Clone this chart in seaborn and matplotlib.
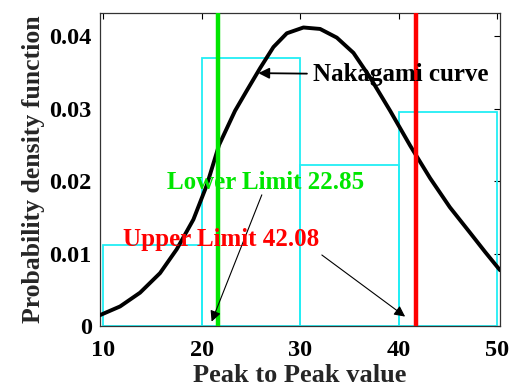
import numpy as np
import pandas as pd
import matplotlib
matplotlib.use("Agg")
import matplotlib.pyplot as plt
import seaborn as sns

# ---- data ----
bin_edges = [10, 20, 30, 40, 50]
bin_centers = [15, 25, 35, 45]
bin_density = [0.0112, 0.0370, 0.0222, 0.0296]

curve_x = [9.66, 11.7, 13.73, 15.76, 17.46, 19.15, 20.5, 21.76, 23.38, 24.58,
           25.93, 27.28, 28.64, 30.33, 32.02, 33.72, 35.41, 37.1, 39.14, 41.17,
           43.2, 45.2, 47.24, 48.8, 50.3]
curve_y = [0.0015, 0.0027, 0.0046, 0.0073, 0.0106, 0.0147, 0.0194, 0.0250, 0.0297, 0.0325,
           0.0356, 0.0385, 0.0404, 0.0412, 0.0410, 0.0398, 0.0377, 0.0343, 0.0297, 0.0249,
           0.0204, 0.0164, 0.0129, 0.0102, 0.0077]

lower_limit_pos = 21.63
upper_limit_pos = 41.74
lower_label = "Lower Limit 22.85"
upper_label = "Upper Limit 42.08"
curve_label = "Nakagami curve"

x_ticks = [10, 20, 30, 40, 50]
y_ticks = [0, 0.01, 0.02, 0.03, 0.04]
y_tick_labels = ["0", "0.01", "0.02", "0.03", "0.04"]

# ---- plot ----
sns.set_style("white")
plt.rcParams['font.family'] = ['Liberation Serif', 'DejaVu Serif']
plt.rcParams['font.weight'] = 'bold'

fig = plt.figure(figsize=(5.13, 3.90), dpi=100)
ax = fig.add_axes([100/513, 64/390, 400/513, 313/390])

hist_df = pd.DataFrame({"x": bin_centers, "w": bin_density})
sns.histplot(data=hist_df, x="x", weights="w", bins=bin_edges, stat="count",
             fill=False, element="bars", color="#22eef5", linewidth=1.3, ax=ax)

curve_df = pd.DataFrame({"x": curve_x, "y": curve_y})
sns.lineplot(data=curve_df, x="x", y="y", color="black", lw=2.8, ax=ax, zorder=4)
ax.lines[-1].set_solid_joinstyle("round")

ax.axvline(lower_limit_pos, color="#00e600", lw=3.2, zorder=5)
ax.axvline(upper_limit_pos, color="#ff0000", lw=3.2, zorder=5)

ax.set_xlim(9.66, 50.3)
ax.set_ylim(0, 0.0432)
ax.set_xticks(x_ticks)
ax.set_xticklabels([str(t) for t in x_ticks])
ax.set_yticks(y_ticks)
ax.set_yticklabels(y_tick_labels)
ax.tick_params(direction="in", length=4, width=0.8, top=True, right=True,
               labelsize=17.5, pad=6, colors="black")
ax.tick_params(axis="x", pad=10)
for lab in ax.get_xticklabels() + ax.get_yticklabels():
    lab.set_fontweight("bold")
for s in ax.spines.values():
    s.set_color("#333333")
    s.set_linewidth(0.9)

ax.set_xlabel("Peak to Peak value", fontsize=19, fontweight="bold", labelpad=2)
ax.set_ylabel("Probability density function", fontsize=18.5, fontweight="bold", labelpad=3)

ax.annotate(curve_label, xy=(25.75, 0.0349), xytext=(31.3, 0.0347),
            fontsize=18, fontweight="bold", color="black", va="center", ha="left",
            arrowprops=dict(arrowstyle="-|>", color="black", lw=1.3, mutation_scale=16,
                            shrinkA=2, shrinkB=0), zorder=6)
ax.text(26.5, 0.0198, lower_label, fontsize=18, fontweight="bold", color="#00e600",
        ha="center", va="center", zorder=6)
ax.annotate("", xy=(21.0, 0.0006), xytext=(26.1, 0.0181),
            arrowprops=dict(arrowstyle="-|>", color="black", lw=0.8, mutation_scale=16,
                            shrinkA=0, shrinkB=0), zorder=6)
ax.text(22.0, 0.0119, upper_label, fontsize=18, fontweight="bold", color="#ff0000",
        ha="center", va="center", zorder=6)
ax.annotate("", xy=(40.66, 0.0013), xytext=(32.2, 0.0098),
            arrowprops=dict(arrowstyle="-|>", color="black", lw=0.8, mutation_scale=16,
                            shrinkA=0, shrinkB=0), zorder=6)

fig.savefig("out.png", dpi=100)
